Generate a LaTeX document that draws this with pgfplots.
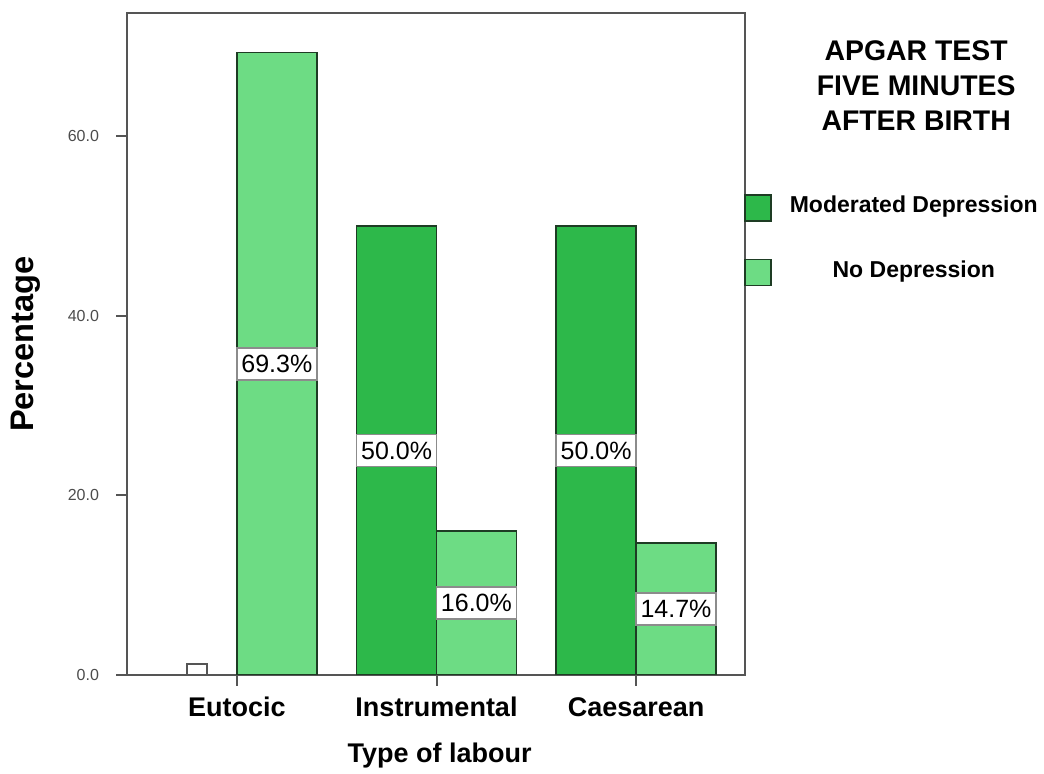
\documentclass[border=0pt]{standalone}
\usepackage{pgfplots}
\pgfplotsset{compat=1.18}
\usepackage{fontspec}
\setmainfont{Liberation Sans}
\definecolor{modColor}{RGB}{45,184,74}
\definecolor{noColor}{RGB}{109,220,132}
\definecolor{edgeColor}{RGB}{30,60,36}
\definecolor{frameColor}{RGB}{85,85,85}

\begin{document}
\begin{tikzpicture}
\useasboundingbox (0,0) rectangle (522pt,387pt);
\begin{axis}[
    at={(63.5pt,49.5pt)}, anchor=south west,
    scale only axis,
    width=309pt, height=331pt,
    ybar,
    xmin=-0.551, xmax=2.546,
    ymin=0, ymax=73.7,
    xtick={0,1,2},
    xticklabels={Eutocic, Instrumental, Caesarean},
    ytick={0,20,40,60},
    tick pos=left,
    tick align=outside,
    major tick length=5.5pt,
    axis line style={frameColor, line width=1pt},
    tick style={frameColor, line width=1pt},
    /pgf/number format/assume math mode=true,
    yticklabel style={font=\fontsize{8}{9}\selectfont, text=black!70, xshift=-5pt,
        /pgf/number format/fixed, /pgf/number format/fixed zerofill,
        /pgf/number format/precision=1},
    xticklabel style={font=\fontsize{13.5}{15}\selectfont\bfseries, anchor=base, yshift=-15.5pt},
    ylabel={Percentage},
    ylabel style={at={(axis description cs:-0.152,0.5)}, anchor=base,
        font=\fontsize{16.3}{18}\selectfont\bfseries},
    xlabel={Type of labour},
    xlabel style={at={(axis description cs:0.506,-0.1325)}, anchor=base,
        font=\fontsize{13.5}{15}\selectfont\bfseries},
    title={APGAR TEST\\FIVE MINUTES\\AFTER BIRTH},
    title style={at={(axis description cs:1.277,0.941)}, anchor=north, align=center,
        inner sep=0pt, font=\fontsize{14.2}{17.5}\selectfont\bfseries},
    bar width=0.4,
    legend style={at={(axis description cs:0.998,0.73)}, anchor=north west,
        draw=none, fill=none, inner sep=0pt, row sep=17.5pt,
        font=\fontsize{11.5}{13}\selectfont\bfseries},
    legend image code/.code={\draw[#1] (0pt,-7.5pt) rectangle (13pt,5.5pt);},
    visualization depends on={y \as \rawy},
    nodes near coords style={shift={(axis direction cs:0,-\rawy/2)}, anchor=center,
        draw=black!45, fill=white, minimum width=40pt, minimum height=16pt, inner sep=0pt,
        font=\fontsize{12.5}{14}\selectfont, text=black},
]
% tiny empty box where Eutocic has no moderated depression
\addplot[draw=frameColor, fill=white, line width=0.8pt, bar width=0.1, bar shift=-0.2, forget plot]
    coordinates {(0,1.2)};
\addplot[draw=edgeColor, fill=modColor, line width=0.8pt, bar shift=-0.2,
    nodes near coords={\pgfmathprintnumber[fixed,fixed zerofill,precision=1]{\pgfplotspointmeta}\%}]
    coordinates {(1,50.0) (2,50.0)};
\addplot[draw=edgeColor, fill=noColor, line width=0.8pt, bar shift=0.2,
    nodes near coords={\pgfmathprintnumber[fixed,fixed zerofill,precision=1]{\pgfplotspointmeta}\%}]
    coordinates {(0,69.3) (1,16.0) (2,14.7)};
\legend{\makebox[138pt]{Moderated Depression}, \makebox[138pt]{No Depression}}
\end{axis}
\end{tikzpicture}
\end{document}
